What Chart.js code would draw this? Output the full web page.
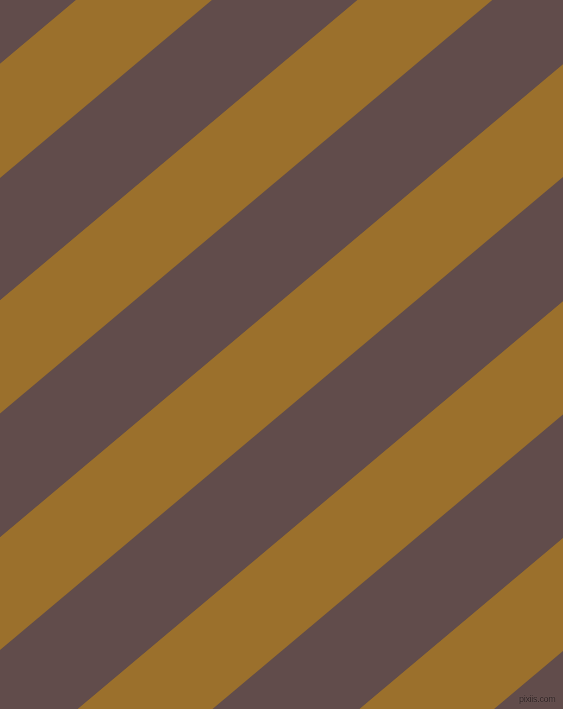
<!DOCTYPE html>
<html>
<head>
<meta charset="utf-8">
<script src="https://cdn.jsdelivr.net/npm/chart.js@4/dist/chart.umd.min.js"></script>
<style>
  html, body { margin: 0; padding: 0; background: #614C4B; overflow: hidden; }
  #wrap { position: relative; width: 563px; height: 709px; }
  #c { display: block; }
  #credit {
    position: absolute; left: 519px; top: 695px;
    font-family: "Liberation Sans", Arial, sans-serif; font-size: 9px; line-height: 9px;
    color: #241919; letter-spacing: -0.3px; white-space: nowrap;
    text-shadow: 0 0 1px rgba(150,130,130,0.9);
  }
</style>
</head>
<body>
<div id="wrap">
  <canvas id="c" width="563" height="709"></canvas>
  <div id="credit">pixiis.com</div>
</div>
<script>
// Stripe boundaries, given as their intercept on the left edge (y at x = 0, y measured downward)
const goldStarts = [-173, 63.5, 300, 537, 774, 1010.7];
const goldEnds   = [-58.5, 178, 413.5, 650, 887.5, 1124];
const nextStart  = [1247.4];
const stripeSlope = 0.84;          // rise of every boundary per unit of x (about 40 degrees)
const xRange = [0, 563];
const yRange = [0, 709];
const goldColor  = '#9B702C';
const brownColor = '#614C4B';

// Build ordered boundary list: gold start -> gold end -> next gold start ...
const boundaries = [];
goldStarts.forEach((c, i) => {
  boundaries.push({ c: c, kind: 'gold' });
  boundaries.push({ c: goldEnds[i], kind: 'brown' });
});
nextStart.forEach(c => boundaries.push({ c: c, kind: 'gold' }));

const datasets = boundaries.map((b, i) => ({
  data: [
    { x: xRange[0], y: b.c - stripeSlope * xRange[0] },
    { x: xRange[1], y: b.c - stripeSlope * xRange[1] }
  ],
  showLine: true,
  borderWidth: 0,
  pointRadius: 0,
  borderColor: 'rgba(0,0,0,0)',
  backgroundColor: b.kind === 'gold' ? goldColor : brownColor,
  fill: i < boundaries.length - 1 ? '+1' : false,
  tension: 0
}));

new Chart(document.getElementById('c'), {
  type: 'scatter',
  data: { datasets: datasets },
  options: {
    responsive: false,
    animation: false,
    layout: { padding: 0 },
    plugins: { legend: { display: false }, tooltip: { enabled: false }, title: { display: false } },
    scales: {
      x: { type: 'linear', min: xRange[0], max: xRange[1], display: false },
      y: { type: 'linear', min: yRange[0], max: yRange[1], reverse: true, display: false }
    },
    elements: { line: { borderWidth: 0 } }
  }
});
</script>
</body>
</html>
